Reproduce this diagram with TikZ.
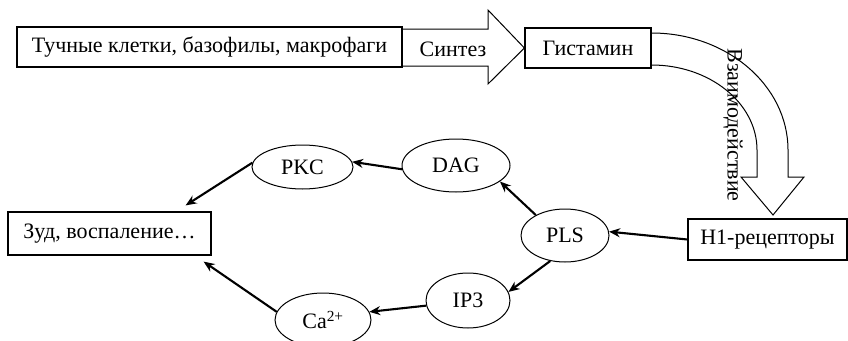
\documentclass[tikz,border=0pt]{standalone}
\usepackage{fontspec}
\setmainfont{Liberation Serif}
\usetikzlibrary{shapes.geometric,arrows.meta,calc}
\begin{document}
\begin{tikzpicture}[x=1pt,y=-1pt,
  every node/.style={font=\fontsize{22}{26}\selectfont, inner sep=0pt},
  box/.style={draw, line width=1.2pt, rectangle},
  oval/.style={draw, line width=1pt, ellipse},
  link/.style={line width=2.1pt, -{Stealth[length=11pt,width=9pt]}},
  big/.style={line width=1pt}]
\useasboundingbox (0,0) rectangle (848,340);
\clip (0,0) rectangle (848,340);

\node[box, minimum width=385, minimum height=40] (cells) at (209.5,47) {Тучные клетки, базофилы, макрофаги};
\node[box, minimum width=126, minimum height=40] (hist) at (588,48) {Гистамин};
\node[box, minimum width=159, minimum height=41] (h1) at (767.5,239.5) {H1-рецепторы};
\node[box, minimum width=203, minimum height=43] (zud) at (109.5,233.5) {Зуд, воспаление…};

\node[oval, minimum width=88, minimum height=53] (pls) at (565,235.5) {PLS};
\node[oval, minimum width=84, minimum height=55] (ip3) at (468,300.5) {IP3};
\node[oval, minimum width=108, minimum height=53] (dag) at (456,165.5) {DAG};
\node[oval, minimum width=101, minimum height=44] (pkc) at (302.5,167) {PKC};
\node[oval, minimum width=96, minimum height=54] (ca) at (323,320) {Ca\textsuperscript{2+}};

% block arrow "Синтез"
\draw[big] (cells.east |- 0,29) -- (488,29) -- (488,10) -- (hist.west) -- (488,84) -- (488,66) -- (cells.east |- 0,66);
\node (syn) at (453,49) {Синтез};

% curved block arrow "Взаимодействие"
\draw[big] (hist.east |- 0,33) .. controls (726.6,33) and (788,85.4) .. (788,150) -- (788,177) -- (804,177) -- (773,215) -- (741,177) -- (757,177) -- (757,150) .. controls (757,103) and (709.5,65) .. (hist.east |- 0,65);
\node[rotate=-90] (vz) at (733,125) {Взаимодействие};

% links
\draw[link] (h1.west) -- (pls.5);
\draw[link] (pls.240) -- (ip3.12);
\draw[link] (pls.145) -- (dag.340);
\draw[link] (dag.184) -- (pkc.6);
\draw[link] (pkc.175) -- ($(zud.north east)+(-26,-6)$);
\draw[link] (ca.170) -- ($(zud.south east)+(-8,6)$);
\draw[link] (ip3.187) -- (ca.10);
\end{tikzpicture}
\end{document}
